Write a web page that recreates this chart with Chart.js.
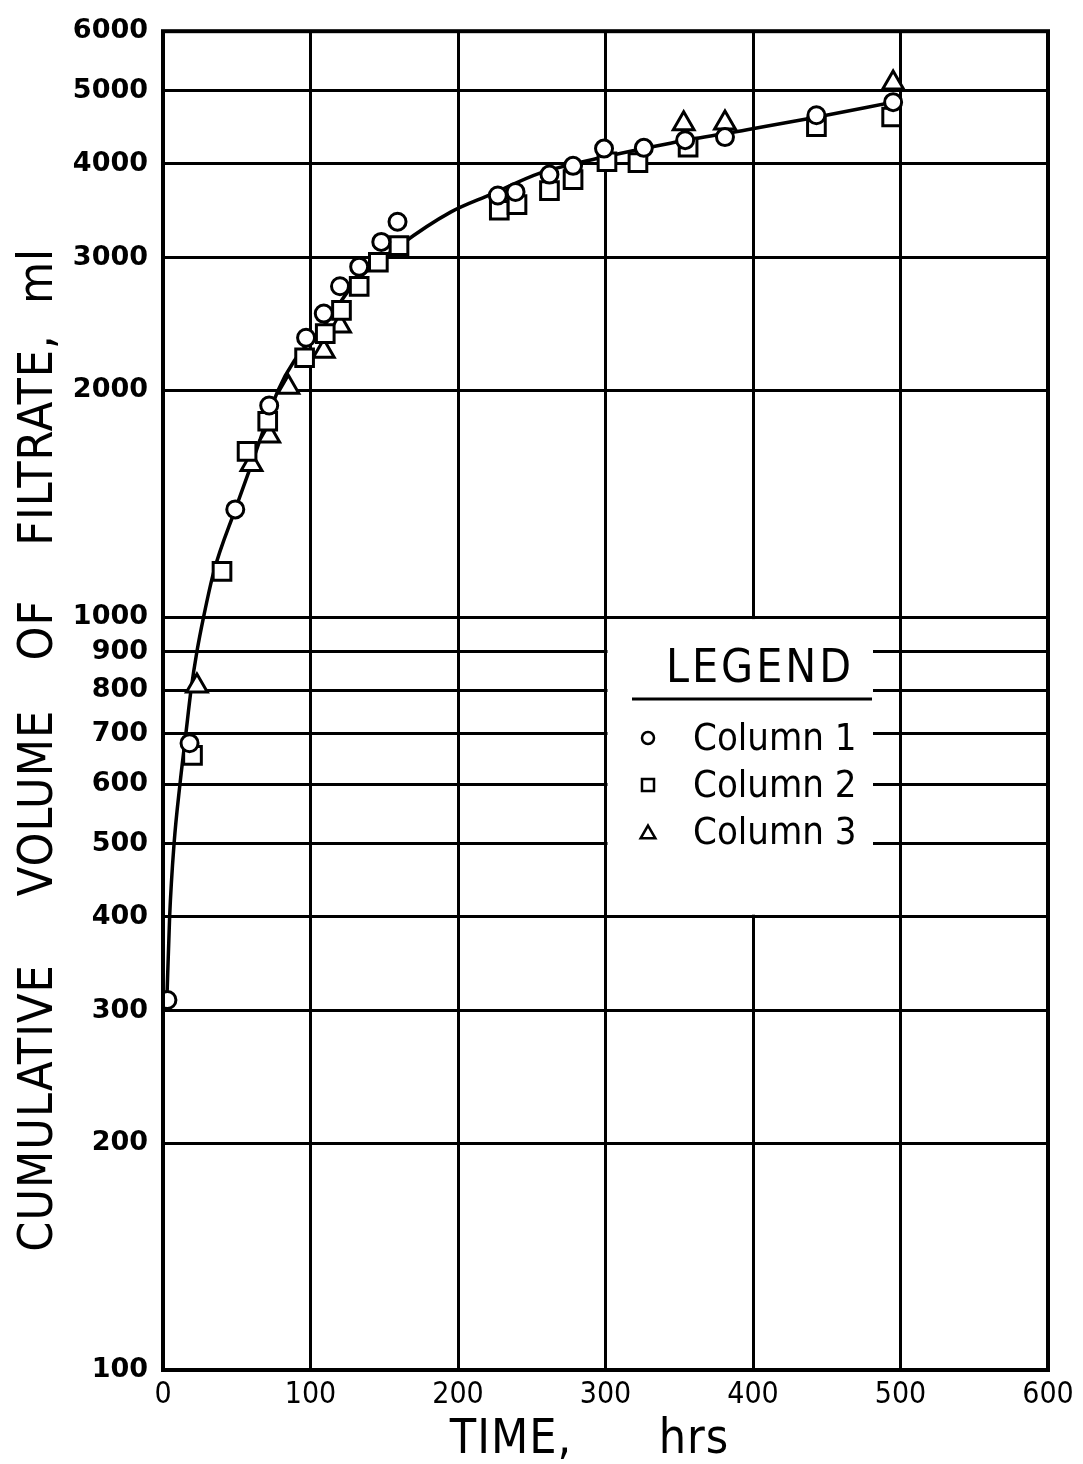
<!DOCTYPE html>
<html>
<head>
<meta charset="utf-8">
<title>Cumulative volume of filtrate</title>
<script src="https://cdn.jsdelivr.net/npm/chart.js@4.4.1/dist/chart.umd.min.js"></script>
<style>
  html, body { margin: 0; padding: 0; background: #fff; }
  #wrap { width: 1083px; height: 1464px; }
</style>
</head>
<body>
<div id="wrap"><canvas id="filtrateChart" width="1083" height="1464"></canvas></div>
<script>
// Data (time in hrs, volume in ml)
const col1Time = [3, 18, 49, 72, 97, 109, 120, 133, 148, 159, 227, 239, 262, 278, 299, 326, 354, 381, 443, 495];
const col1Vol  = [310, 680, 1390, 1910, 2350, 2530, 2750, 2920, 3150, 3350, 3630, 3670, 3870, 3975, 4190, 4200, 4300, 4340, 4640, 4830];

const col2Time = [20, 40, 57, 71, 96, 110, 121, 133, 146, 160, 228, 240, 262, 278, 301, 322, 356, 443, 494];
const col2Vol  = [655, 1150, 1660, 1820, 2210, 2380, 2555, 2750, 2960, 3115, 3470, 3530, 3685, 3810, 4025, 4015, 4210, 4480, 4615];

const col3Time = [23, 60, 72, 85, 109, 120, 353, 381, 495];
const col3Vol  = [810, 1595, 1740, 2020, 2255, 2435, 4520, 4530, 5120];

// fitted curve drawn through the points
const curveTime = [2.5, 4.5, 7.5, 11.5, 15.5, 19, 23, 27.5, 34.5, 49, 60, 78, 89, 110, 130, 160, 195, 222, 256, 298, 344, 396, 440, 495];
const curveVol  = [305, 400, 500, 600, 700, 800, 900, 1000, 1150, 1390, 1595, 2000, 2190, 2450, 2780, 3110, 3450, 3640, 3890, 4080, 4260, 4440, 4600, 4830];

const yTicks = [100, 200, 300, 400, 500, 600, 700, 800, 900, 1000, 2000, 3000, 4000, 5000, 6000];
const xTicks = [0, 100, 200, 300, 400, 500, 600];

const seriesNames = ["Column 1", "Column 2", "Column 3"];
const seriesStyles = ["circle", "rect", "triangle"];

function toPoints(xs, ys) {
    return xs.map((x, i) => ({ x: x, y: ys[i] }));
}

const condensed = "'DejaVu Sans Condensed', 'DejaVu Sans', sans-serif";

// white box + text legend, axis titles and frame
const decorPlugin = {
    id: "decor",
    beforeDatasetsDraw(chart) {
        const ctx = chart.ctx;
        const xs = chart.scales.x, ys = chart.scales.y;
        const left = xs.getPixelForValue(300) + 2;
        const top = ys.getPixelForValue(1000) + 2;
        const bottom = ys.getPixelForValue(400) - 2;
        ctx.save();
        ctx.fillStyle = "#fff";
        ctx.fillRect(left, top, 873 - left, bottom - top);
        ctx.restore();
    },
    afterDraw(chart) {
        const ctx = chart.ctx;
        const area = chart.chartArea;
        ctx.save();

        // frame
        ctx.strokeStyle = "#000";
        ctx.lineWidth = 4;
        ctx.strokeRect(area.left, area.top, area.right - area.left, area.bottom - area.top);

        // legend
        ctx.fillStyle = "#000";
        ctx.textBaseline = "alphabetic";
        ctx.textAlign = "center";
        ctx.font = "46px " + condensed;
        ctx.letterSpacing = "3px";
        ctx.fillText("LEGEND", 760, 682);
        ctx.letterSpacing = "0px";
        ctx.lineWidth = 3;
        ctx.beginPath();
        ctx.moveTo(632, 699);
        ctx.lineTo(872, 699);
        ctx.stroke();

        ctx.textAlign = "left";
        ctx.textBaseline = "middle";
        ctx.font = "38px " + condensed;
        const rows = [738, 785, 832];
        seriesNames.forEach((name, i) => {
            ctx.lineWidth = 2.5;
            ctx.strokeStyle = "#000";
            ctx.fillStyle = "#fff";
            const r = seriesStyles[i] === "circle" ? 6 : 8.5;
            Chart.helpers.drawPoint(ctx, { pointStyle: seriesStyles[i], radius: r, rotation: 0, borderWidth: 2.5 }, 648, rows[i] + (seriesStyles[i] === "triangle" ? 2 : 0));
            ctx.fillStyle = "#000";
            ctx.fillText(name, 693, rows[i] + 2);
        });

        // y axis title, word by word (rotated)
        ctx.font = "48px " + condensed;
        ctx.letterSpacing = "1px";
        ctx.textAlign = "center";
        ctx.textBaseline = "middle";
        const yWords = [["CUMULATIVE", 1108], ["VOLUME", 803], ["OF", 630], ["FILTRATE,", 440], ["ml", 276]];
        yWords.forEach(([w, cy]) => {
            ctx.save();
            ctx.translate(40, cy);
            ctx.rotate(-Math.PI / 2);
            ctx.fillText(w, 0, 0);
            ctx.restore();
        });

        // x axis title
        ctx.textBaseline = "alphabetic";
        ctx.fillText("TIME,", 511, 1453);
        ctx.fillText("hrs", 694, 1453);
        ctx.restore();
    }
};

const markerBase = {
    showLine: false,
    backgroundColor: "#fff",
    borderColor: "#000",
    pointBorderWidth: 3,
    pointBackgroundColor: "#fff",
    pointBorderColor: "#000"
};

new Chart(document.getElementById("filtrateChart"), {
    type: "scatter",
    data: {
        datasets: [
            Object.assign({ label: seriesNames[0], data: toPoints(col1Time, col1Vol), pointStyle: "circle", pointRadius: 8.5 }, markerBase),
            Object.assign({ label: seriesNames[1], data: toPoints(col2Time, col2Vol), pointStyle: "rect", pointRadius: 12.5 }, markerBase),
            Object.assign({ label: seriesNames[2], data: toPoints(col3Time, col3Vol), pointStyle: "triangle", pointRadius: 12 }, markerBase),
            {
                label: "curve",
                data: toPoints(curveTime, curveVol),
                showLine: true,
                pointRadius: 0,
                borderColor: "#000",
                borderWidth: 3.5,
                cubicInterpolationMode: "monotone",
                fill: false
            }
        ]
    },
    options: {
        responsive: false,
        animation: false,
        layout: { padding: { top: 26, right: 35, left: 0, bottom: 0 } },
        plugins: {
            legend: { display: false },
            tooltip: { enabled: false }
        },
        scales: {
            x: {
                type: "linear",
                min: 0,
                max: 600,
                afterBuildTicks: (scale) => { scale.ticks = xTicks.map(v => ({ value: v })); },
                afterFit: (scale) => { scale.height = 94; },
                grid: { color: "#000", lineWidth: 3, drawTicks: false },
                border: { display: false },
                ticks: {
                    color: "#000",
                    padding: 7,
                    maxRotation: 0,
                    font: { family: condensed, size: 30 }
                }
            },
            y: {
                type: "logarithmic",
                min: 100,
                max: 6000,
                afterBuildTicks: (scale) => { scale.ticks = yTicks.map(v => ({ value: v })); },
                afterFit: (scale) => { scale.width = 163; },
                grid: { color: "#000", lineWidth: 3, drawTicks: false },
                border: { display: false },
                ticks: {
                    color: "#000",
                    padding: 15,
                    autoSkip: false,
                    callback: (v) => String(v),
                    font: { family: "'DejaVu Sans', sans-serif", size: 27, weight: "bold" }
                }
            }
        }
    },
    plugins: [decorPlugin]
});
</script>
</body>
</html>
